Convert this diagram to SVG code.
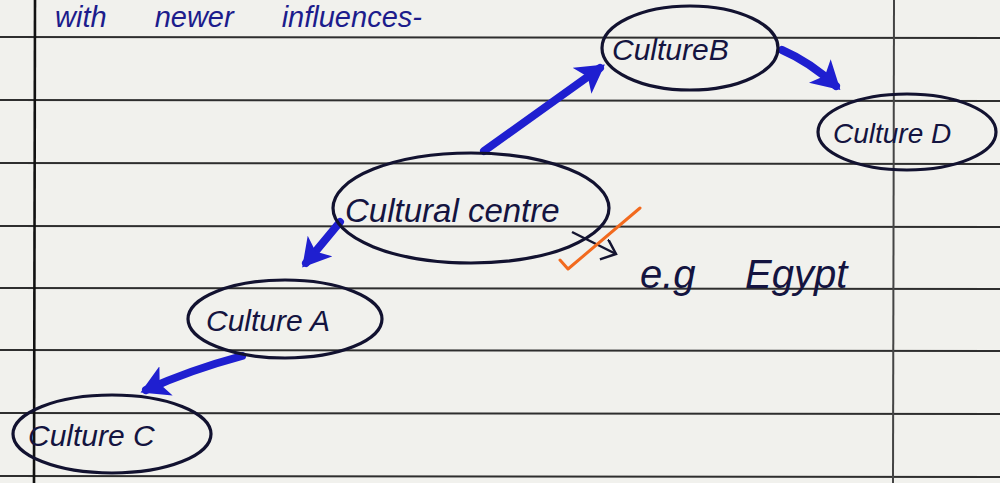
<svg xmlns="http://www.w3.org/2000/svg" width="1000" height="483" viewBox="0 0 1000 483">
<style>
.rule{stroke:#2e2e2e;stroke-width:2;fill:none}
.node{fill:none;stroke:#121230;stroke-width:3.2}
.lbl{font-family:"Liberation Sans",Arial,sans-serif;font-style:italic;fill:#141440}
.blue{font-family:"Liberation Sans",Arial,sans-serif;font-style:italic;fill:#1c1c8c}
.conn{stroke:#1f1fd0;stroke-width:8;fill:none;stroke-linecap:round}
</style>
<defs>
<marker id="ah" markerUnits="userSpaceOnUse" markerWidth="40" markerHeight="40" refX="22" refY="16" orient="auto">
<path d="M0,0 L28,16 L0,32 L7,16 Z" fill="#1f1fd0"/>
</marker>
<marker id="thin" markerUnits="userSpaceOnUse" markerWidth="24" markerHeight="24" refX="14" refY="10" orient="auto">
<path d="M0,0 L14,10 L2,22" fill="none" stroke="#141430" stroke-width="2.5"/>
</marker>
</defs>
<rect width="1000" height="483" fill="#f1f1ed"/>
<g id="paper">
<line class="rule" x1="0" y1="37" x2="1000" y2="38"/>
<line class="rule" x1="0" y1="100" x2="1000" y2="101"/>
<line class="rule" x1="0" y1="163" x2="1000" y2="164"/>
<line class="rule" x1="0" y1="226" x2="1000" y2="227"/>
<line class="rule" x1="0" y1="288" x2="1000" y2="289"/>
<line class="rule" x1="0" y1="350" x2="1000" y2="351"/>
<line class="rule" x1="0" y1="413" x2="1000" y2="414"/>
<line class="rule" x1="0" y1="476" x2="1000" y2="477"/>
<line x1="35" y1="0" x2="34" y2="483" stroke="#111" stroke-width="2.6"/>
<line x1="894" y1="0" x2="893" y2="483" stroke="#444" stroke-width="2"/>
</g>
<text class="blue" x="55" y="27" font-size="29" word-spacing="40">with newer influences-</text>
<g id="connectors">
<line class="conn" x1="484" y1="151" x2="600" y2="68" marker-end="url(#ah)"/>
<path class="conn" d="M782,50 Q810,62 836,86" marker-end="url(#ah)"/>
<line class="conn" x1="340" y1="222" x2="306" y2="263" marker-end="url(#ah)"/>
<path class="conn" d="M242,356 Q190,370 146,390" marker-end="url(#ah)"/>
<line x1="572" y1="232" x2="616" y2="254" stroke="#141430" stroke-width="2.5" marker-end="url(#thin)"/>
</g>
<g id="culture-b">
<ellipse class="node" cx="690" cy="48" rx="88" ry="42"/>
<text class="lbl" x="612" y="60" font-size="30">CultureB</text>
</g>
<g id="culture-d">
<ellipse class="node" cx="907" cy="132" rx="89" ry="38"/>
<text class="lbl" x="833" y="143" font-size="28">Culture D</text>
</g>
<g id="cultural-centre">
<ellipse class="node" cx="471" cy="208" rx="138" ry="55"/>
<text class="lbl" x="345" y="222" font-size="33">Cultural centre</text>
</g>
<g id="culture-a">
<ellipse class="node" cx="285" cy="319" rx="97" ry="39"/>
<text class="lbl" x="206" y="331" font-size="30">Culture A</text>
</g>
<g id="culture-c">
<ellipse class="node" cx="112" cy="434" rx="99" ry="39"/>
<text class="lbl" x="28" y="446" font-size="30">Culture C</text>
</g>
<g id="example">
<text class="lbl" font-size="40" y="288"><tspan x="640">e.g</tspan><tspan x="745">Egypt</tspan></text>
</g>
<path d="M560,260 L568,269 L640,208" fill="none" stroke="#f26a1e" stroke-width="3" stroke-linecap="round" stroke-linejoin="round"/>
</svg>
